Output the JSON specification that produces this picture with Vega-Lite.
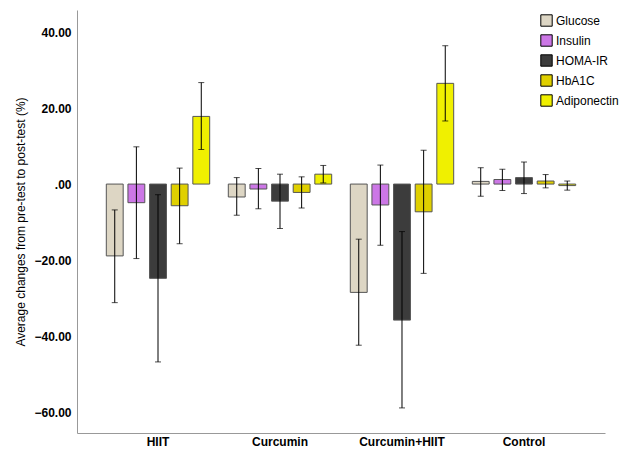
{
  "$schema": "https://vega.github.io/schema/vega-lite/v6.json",
  "width": 528,
  "height": 423,
  "autosize": {"type": "none"},
  "padding": {"left": 77, "top": 10, "right": 17, "bottom": 19},
  "background": "white",
  "config": {
    "font": "Liberation Sans",
    "view": {"stroke": null},
    "axis": {"grid": false, "domainColor": "#999999", "labelColor": "#000000", "titleColor": "#000000"}
  },
  "data": {
    "values": [
      {"group": "HIIT", "measure": "Glucose", "mean": -18.9, "lo": -31.2, "hi": -6.8},
      {"group": "HIIT", "measure": "Insulin", "mean": -4.9, "lo": -19.6, "hi": 9.8},
      {"group": "HIIT", "measure": "HOMA-IR", "mean": -24.8, "lo": -46.8, "hi": -2.8},
      {"group": "HIIT", "measure": "HbA1C", "mean": -5.7, "lo": -15.7, "hi": 4.2},
      {"group": "HIIT", "measure": "Adiponectin", "mean": 17.8, "lo": 9.1, "hi": 26.7},
      {"group": "Curcumin", "measure": "Glucose", "mean": -3.4, "lo": -8.2, "hi": 1.7},
      {"group": "Curcumin", "measure": "Insulin", "mean": -1.3, "lo": -6.5, "hi": 4.1},
      {"group": "Curcumin", "measure": "HOMA-IR", "mean": -4.5, "lo": -11.7, "hi": 2.6},
      {"group": "Curcumin", "measure": "HbA1C", "mean": -2.2, "lo": -6.3, "hi": 1.9},
      {"group": "Curcumin", "measure": "Adiponectin", "mean": 2.6, "lo": 0.3, "hi": 4.9},
      {"group": "Curcumin+HIIT", "measure": "Glucose", "mean": -28.5, "lo": -42.4, "hi": -14.5},
      {"group": "Curcumin+HIIT", "measure": "Insulin", "mean": -5.5, "lo": -16.1, "hi": 5.0},
      {"group": "Curcumin+HIIT", "measure": "HOMA-IR", "mean": -35.8, "lo": -58.9, "hi": -12.5},
      {"group": "Curcumin+HIIT", "measure": "HbA1C", "mean": -7.3, "lo": -23.5, "hi": 8.9},
      {"group": "Curcumin+HIIT", "measure": "Adiponectin", "mean": 26.5, "lo": 16.6, "hi": 36.4},
      {"group": "Control", "measure": "Glucose", "mean": 0.7, "lo": -3.2, "hi": 4.3},
      {"group": "Control", "measure": "Insulin", "mean": 1.2, "lo": -1.7, "hi": 3.9},
      {"group": "Control", "measure": "HOMA-IR", "mean": 1.7, "lo": -2.5, "hi": 5.8},
      {"group": "Control", "measure": "HbA1C", "mean": 0.8, "lo": -1.0, "hi": 2.5},
      {"group": "Control", "measure": "Adiponectin", "mean": -0.4, "lo": -1.6, "hi": 0.8}
    ]
  },
  "encoding": {
    "x": {
      "field": "group", "type": "nominal",
      "sort": ["HIIT", "Curcumin", "Curcumin+HIIT", "Control"],
      "scale": {"paddingInner": 0, "paddingOuter": 0.164},
      "axis": {"title": null, "labelAngle": 0, "ticks": false, "labelFontSize": 12, "labelFontWeight": "bold", "labelPadding": 3}
    },
    "xOffset": {
      "field": "measure", "type": "nominal",
      "sort": ["Glucose", "Insulin", "HOMA-IR", "HbA1C", "Adiponectin"],
      "scale": {"paddingInner": 0.22, "paddingOuter": 0.43}
    }
  },
  "layer": [
    {
      "mark": {"type": "bar", "stroke": "#555555", "strokeWidth": 1},
      "encoding": {
        "y": {
          "field": "mean", "type": "quantitative",
          "scale": {"domain": [-65.5, 45.8], "nice": false, "zero": false},
          "axis": {
            "values": [-60, -40, -20, 0, 20, 40],
            "labelExpr": "datum.value == 0 ? '.00' : format(datum.value, '.2f')",
            "ticks": false, "labelFontSize": 12, "labelFontWeight": "bold", "labelPadding": 6,
            "title": "Average changes from pre-test to post-test (%)",
            "titleFontSize": 12, "titleFontWeight": "normal", "titlePadding": 6
          }
        },
        "color": {
          "field": "measure", "type": "nominal",
          "scale": {
            "domain": ["Glucose", "Insulin", "HOMA-IR", "HbA1C", "Adiponectin"],
            "range": ["#ddd6c4", "#cc77e6", "#3c3c3c", "#e0d000", "#f0f000"]
          },
          "legend": {
            "title": null, "orient": "none", "legendX": 463, "legendY": 4,
            "symbolType": "square", "symbolSize": 130, "symbolStrokeColor": "#000000", "symbolStrokeWidth": 1,
            "labelFontSize": 12, "labelColor": "#000000", "rowPadding": 3, "labelOffset": 3,
            "labelExpr": "datum.label == 'HbA1C' ? ' HbA1C' : datum.label"
          }
        }
      }
    },
    {
      "mark": {"type": "rule", "color": "#000000", "strokeWidth": 1},
      "encoding": {
        "y": {"field": "lo", "type": "quantitative"},
        "y2": {"field": "hi"}
      }
    },
    {
      "mark": {"type": "tick", "color": "#000000", "size": 6, "thickness": 1},
      "encoding": {"y": {"field": "lo", "type": "quantitative"}}
    },
    {
      "mark": {"type": "tick", "color": "#000000", "size": 6, "thickness": 1},
      "encoding": {"y": {"field": "hi", "type": "quantitative"}}
    }
  ]
}
